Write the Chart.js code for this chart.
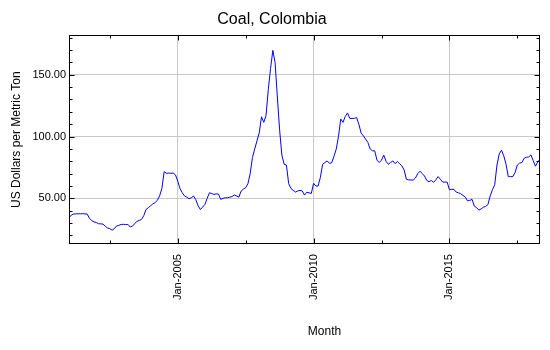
<!DOCTYPE html>
<html>
<head>
<meta charset="utf-8">
<script src="https://cdn.jsdelivr.net/npm/chart.js@4/dist/chart.umd.min.js"></script>
<style>
  html, body { margin: 0; padding: 0; background: #ffffff; }
  #wrap { width: 550px; height: 350px; }
</style>
</head>
<body>
<div id="wrap"><canvas id="c" width="550" height="350"></canvas></div>
<script>
// Monthly price, Jan-2001 .. May-2018 (US Dollars per Metric Ton)
const prices = [
  34.2, 36.5, 37.3, 37.5, 37.5, 37.5, 37.6, 37.5, 37.3, 34.0, 32.0, 31.0,
  30.5, 29.5, 29.4, 29.2, 27.5, 26.0, 25.5, 24.3, 25.5, 27.7, 28.2, 28.9,
  29.0, 28.9, 28.8, 27.0, 27.5, 29.5, 31.5, 32.2, 33.0, 36.0, 41.0, 42.5,
  44.0, 45.5, 46.5, 48.5, 52.0, 58.0, 71.6, 70.3, 70.5, 70.3, 70.5, 69.0,
  64.0, 58.0, 54.5, 52.0, 51.0, 49.7, 50.5, 51.9, 49.0, 44.0, 41.0, 43.0,
  45.0, 50.0, 54.5, 54.0, 53.2, 53.7, 53.5, 49.2, 50.0, 50.5, 50.5, 51.0,
  51.5, 52.7, 52.0, 51.0, 55.9, 57.5, 58.6, 61.9, 70.0, 83.0, 90.0, 96.5,
  103.0, 116.0, 111.5, 117.0, 138.0, 155.0, 169.7, 160.0, 132.0, 105.4, 85.0, 77.6,
  77.0, 62.0, 58.0, 56.5, 55.1, 56.0, 56.5, 56.0, 52.7, 55.0, 54.5, 54.0,
  62.2, 60.0, 60.0, 67.0, 77.6, 79.0, 80.3, 78.4, 78.8, 84.0, 89.8, 100.1,
  114.2, 111.5, 116.3, 119.1, 114.7, 114.7, 114.7, 115.5, 110.0, 102.8, 100.5, 98.0,
  95.2, 90.0, 88.5, 88.5, 81.0, 79.0, 81.0, 85.0, 80.0, 77.6, 79.0, 80.3,
  78.1, 79.8, 78.0, 76.3, 73.0, 65.4, 65.0, 64.9, 64.8, 66.5, 70.0, 72.0,
  70.0, 68.1, 64.5, 63.5, 64.5, 63.0, 65.0, 67.6, 65.5, 63.2, 63.2, 63.2,
  57.0, 57.3, 57.3, 55.1, 54.5, 53.7, 52.4, 51.0, 48.0, 48.4, 49.2, 43.7,
  42.5, 40.5, 41.5, 42.9, 43.5, 45.0, 52.0, 57.0, 61.0, 77.0, 86.0, 89.0,
  84.4, 77.6, 67.6, 67.6, 67.6, 71.0, 77.0, 78.5, 79.0, 82.5, 83.3, 83.5,
  85.2, 80.5, 76.0, 79.5, 81.7
];
// month index 0 = Jan-2001
const monthIndex = prices.map((_, i) => i);

// x axis ticks (month indices) and labels
const xMajorTicks = [48, 108, 168];
const xMajorLabels = ['Jan-2005', 'Jan-2010', 'Jan-2015'];
const xMinorTicks = [18, 78, 138, 198];

// y axis ticks
const yMajorTicks = [50, 100, 150];
const yMinorTicks = [20, 30, 40, 60, 70, 80, 90, 110, 120, 130, 140, 160, 170, 180];

const FONT = '"Liberation Sans", Arial, sans-serif';

const frameAndTicks = {
  id: 'frameAndTicks',
  afterDraw(chart) {
    const { ctx, chartArea, scales } = chart;
    const L = Math.round(chartArea.left) + 0.5;
    const R = Math.round(chartArea.right) - 0.5;
    const T = Math.round(chartArea.top) + 0.5;
    const B = Math.round(chartArea.bottom) - 0.5;
    ctx.save();
    ctx.strokeStyle = '#000000';
    ctx.lineWidth = 1;
    ctx.strokeRect(L, T, R - L, B - T);
    ctx.beginPath();
    const yTick = (v, len) => {
      const p = Math.round(scales.y.getPixelForValue(v)) + 0.5;
      ctx.moveTo(L, p); ctx.lineTo(L + len, p);
      ctx.moveTo(R, p); ctx.lineTo(R - len, p);
    };
    const xTick = (v, len) => {
      const p = Math.round(scales.x.getPixelForValue(v)) + 0.5;
      ctx.moveTo(p, B); ctx.lineTo(p, B - len);
      ctx.moveTo(p, T); ctx.lineTo(p, T + len);
    };
    yMajorTicks.forEach(v => yTick(v, 5));
    yMinorTicks.forEach(v => yTick(v, 3));
    xMajorTicks.forEach(v => xTick(v, 5));
    xMinorTicks.forEach(v => xTick(v, 3));
    ctx.stroke();
    // x axis title
    ctx.fillStyle = '#000000';
    ctx.font = '12px ' + FONT;
    ctx.textAlign = 'center';
    ctx.textBaseline = 'middle';
    ctx.fillText('Month', (chartArea.left + chartArea.right) / 2 + 20, 332);
    ctx.restore();
  }
};

new Chart(document.getElementById('c'), {
  type: 'line',
  data: {
    datasets: [{
      data: monthIndex.map((m, i) => ({ x: m, y: prices[i] })),
      borderColor: '#0000ff',
      borderWidth: 1,
      pointRadius: 0,
      tension: 0,
      fill: false
    }]
  },
  options: {
    responsive: false,
    animation: false,
    devicePixelRatio: 1,
    layout: { padding: { left: 4, right: 10, top: 0, bottom: 40 } },
    plugins: {
      legend: { display: false },
      tooltip: { enabled: false },
      title: {
        display: true,
        text: 'Coal, Colombia',
        color: '#000000',
        font: { family: FONT, size: 16, weight: 'normal' },
        padding: { top: 10, bottom: 6 }
      }
    },
    scales: {
      x: {
        type: 'linear',
        min: 0,
        max: 208,
        afterBuildTicks: (axis) => {
          axis.ticks = [...xMinorTicks, ...xMajorTicks].sort((a, b) => a - b).map(v => ({ value: v }));
        },
        ticks: {
          autoSkip: false,
          maxRotation: 90,
          minRotation: 90,
          padding: 10,
          color: '#000000',
          font: { family: FONT, size: 11 },
          callback: (v) => {
            const i = xMajorTicks.indexOf(v);
            return i >= 0 ? xMajorLabels[i] : '';
          }
        },
        grid: {
          drawTicks: false,
          color: (c) => (c.tick && xMajorTicks.includes(c.tick.value)) ? '#c8c8c8' : 'rgba(0,0,0,0)',
          lineWidth: 1
        },
        border: { display: false },
        title: { display: false }
      },
      y: {
        type: 'linear',
        min: 13,
        max: 182,
        afterBuildTicks: (axis) => {
          axis.ticks = yMajorTicks.map(v => ({ value: v }));
        },
        ticks: {
          padding: 3,
          color: '#000000',
          font: { family: FONT, size: 11 },
          callback: (v) => Number(v).toFixed(2)
        },
        grid: {
          drawTicks: false,
          color: '#c8c8c8',
          lineWidth: 1
        },
        border: { display: false },
        title: {
          display: true,
          text: 'US Dollars per Metric Ton',
          color: '#000000',
          font: { family: FONT, size: 12 },
          padding: { top: 5, bottom: 6 }
        }
      }
    }
  },
  plugins: [frameAndTicks]
});
</script>
</body>
</html>
